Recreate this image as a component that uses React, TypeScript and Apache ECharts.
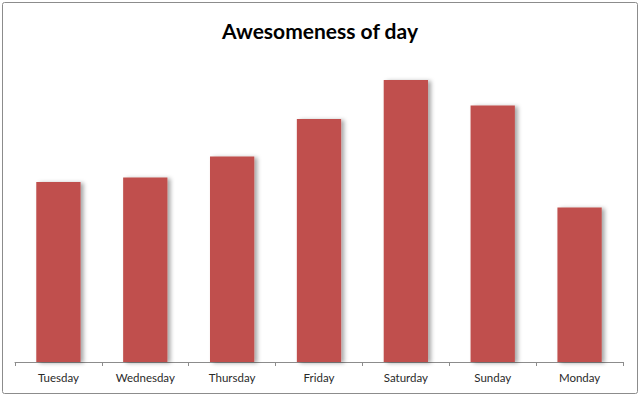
import React, { useEffect, useRef } from "react";
import * as echarts from "echarts";

const days = ["Tuesday", "Wednesday", "Thursday", "Friday", "Saturday", "Sunday", "Monday"];
const awesomeness = [6.0, 6.15, 6.85, 8.1, 9.4, 8.55, 5.15];
const chartTitle = "Awesomeness of day";

export default function App() {
  const ref = useRef<HTMLDivElement>(null);
  useEffect(() => {
    document.body.style.margin = "0";
    const chart = echarts.init(ref.current!, null, { renderer: "svg" });
    chart.setOption({
      animation: false,
      backgroundColor: "#ffffff",
      title: {
        text: chartTitle,
        left: "center",
        top: 15,
        textStyle: { fontFamily: "Lato", fontWeight: "bold", fontSize: 21, color: "#000" },
      },
      graphic: [
        {
          type: "rect",
          shape: { x: 2.5, y: 2.5, width: 635, height: 391, r: 2 },
          style: { fill: "none", stroke: "#8c8c8c", lineWidth: 1 },
          silent: true,
        },
      ],
      grid: { left: 15, right: 17, top: 62, bottom: 34 },
      xAxis: {
        type: "category",
        data: days,
        axisLine: { lineStyle: { color: "#8c8c8c", width: 1 } },
        axisTick: { show: true, length: 4, lineStyle: { color: "#8c8c8c" } },
        axisLabel: { fontFamily: "Lato", fontSize: 11.5, color: "#2a2a2a", margin: 9 },
      },
      yAxis: {
        type: "value",
        min: 0,
        max: 10,
        show: false,
        splitLine: { show: false },
      },
      series: [
        {
          type: "bar",
          data: awesomeness,
          barWidth: "51%",
          itemStyle: {
            color: "#c0504d",
            shadowColor: "rgba(0,0,0,0.35)",
            shadowBlur: 4,
            shadowOffsetX: 3,
            shadowOffsetY: 1,
          },
        },
      ],
    });
    return () => chart.dispose();
  }, []);
  return <div ref={ref} style={{ width: 640, height: 396 }} />;
}
